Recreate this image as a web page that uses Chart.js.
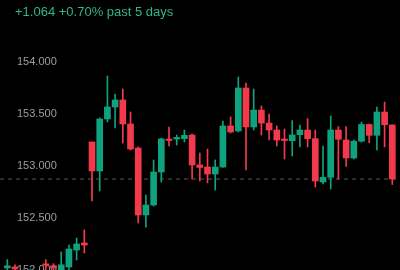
<!DOCTYPE html>
<html>
<head>
<meta charset="utf-8">
<script src="https://cdn.jsdelivr.net/npm/chart.js@4.4.1/dist/chart.umd.min.js"></script>
<style>
  html, body { margin: 0; padding: 0; background: #000; }
  #wrap { position: relative; width: 400px; height: 270px; overflow: hidden; background: #000; }
  #hdr { position: absolute; left: 15px; top: 4px; font: 13px "Liberation Sans", Arial, sans-serif; line-height: 16px; color: #35b28e; white-space: nowrap; z-index: 2; }
  canvas { position: absolute; left: 0; top: 0; }
</style>
</head>
<body>
<div id="wrap">
  <div id="hdr">+1.064 +0.70% past 5 days</div>
  <canvas id="c" width="400" height="270"></canvas>
</div>
<script>
// Candle index positions (bar slots)
const slots = [-12,-11,-10,-9,-8,-7,-6,-5,-4,-3,-2,-1,0,1,2,3,4,5,6,7,8,9,10,11,12,13,14,15,16,17,18,19,20,21,22,23,24,25,26,27,28,29,30,31,32,33,34,35,36,37,38,39];
const opens  = [151.98,152.02,152.03,151.98,151.96,151.97,152.055,152.04,151.98,152.029,152.192,152.260,
  153.231,152.952,153.452,153.567,153.635,153.404,153.173,152.529,152.625,152.942,153.255,153.260,153.263,153.298,
  153.010,152.990,152.923,152.990,153.385,153.337,153.750,153.375,153.538,153.413,153.346,153.255,153.243,153.301,
  153.346,153.263,152.846,152.891,153.346,153.250,153.077,153.238,153.399,153.295,153.519,153.394];
const closes = [151.95,152.04,152.01,151.95,151.99,151.94,152.045,152.02,152.05,152.202,152.250,152.240,
  152.952,153.452,153.567,153.635,153.404,153.163,152.529,152.625,152.942,153.260,153.245,153.274,153.295,153.010,
  152.986,152.923,152.990,153.385,153.327,153.750,153.375,153.538,153.413,153.346,153.250,153.245,153.298,153.346,
  153.263,152.856,152.891,153.346,153.257,153.077,153.238,153.399,153.295,153.519,153.397,152.875];
const highs  = [152.00,152.10,152.05,152.00,152.01,151.99,152.10,152.06,152.173,152.240,152.308,152.385,
  153.231,153.462,153.865,153.692,153.740,153.519,153.183,152.721,153.058,153.269,153.375,153.298,153.346,153.308,
  153.125,153.163,153.058,153.433,153.471,153.856,153.798,153.740,153.577,153.500,153.385,153.356,153.436,153.394,
  153.455,153.346,153.192,153.481,153.378,153.380,153.250,153.423,153.404,153.567,153.615,153.397];
const lows   = [151.90,151.98,151.97,151.90,151.92,151.90,151.98,151.97,151.95,151.97,152.096,152.163,
  152.663,152.760,153.423,153.365,153.221,153.154,152.452,152.413,152.615,152.846,153.192,153.202,153.231,152.875,
  152.856,152.837,152.769,152.986,153.317,153.327,152.962,153.346,153.298,153.250,153.192,153.067,153.096,153.183,
  153.183,152.798,152.827,152.779,152.875,152.995,153.067,153.231,153.224,153.154,153.183,152.822];
const prevClose = 152.875;
const yTickValues = [154.0, 153.5, 153.0, 152.5, 152.0];
const headerText = "+1.064 +0.70% past 5 days";

const UP = '#0fa27f', DOWN = '#f23a4c';
const X_MIN = -11.95, X_MAX = 40.0;
const Y_MIN = 152.0, Y_MAX = 154.596;

const bodies = slots.map((s, i) => ({ x: s, y: [opens[i], closes[i]] }));
const wicks  = slots.map((s, i) => ({ x: s, y: [lows[i], highs[i]] }));
const colorFor = ctx => {
  const i = ctx.dataIndex;
  return closes[i] >= opens[i] ? UP : DOWN;
};

const tickLabels = {
  id: 'tickLabels',
  beforeDatasetsDraw(chart) {
    const y = chart.scales.y;
    const c = chart.ctx;
    c.save();
    c.fillStyle = '#9d9d9d';
    c.font = '11px "Liberation Sans", Arial, sans-serif';
    c.textAlign = 'left';
    c.textBaseline = 'middle';
    yTickValues.forEach(v => c.fillText(v.toFixed(3), 17, y.getPixelForValue(v)));
    c.restore();
  }
};

new Chart(document.getElementById('c'), {
  type: 'bar',
  data: {
    datasets: [
      { type: 'line', data: [{ x: X_MIN, y: prevClose }, { x: X_MAX, y: prevClose }],
        borderColor: '#5a5a5a', borderWidth: 1, borderDash: [4, 4], pointRadius: 0, order: 3 },
      { data: wicks, backgroundColor: colorFor, borderWidth: 0, barThickness: 1, grouped: false, order: 2 },
      { data: bodies, backgroundColor: colorFor, borderWidth: 0, barThickness: 6, grouped: false, minBarLength: 1.5, order: 1 }
    ]
  },
  options: {
    responsive: false,
    animation: false,
    layout: { padding: 0 },
    plugins: { legend: { display: false }, tooltip: { enabled: false }, title: { display: false } },
    scales: {
      x: { type: 'linear', min: X_MIN, max: X_MAX, display: false, offset: false },
      y: { type: 'linear', min: Y_MIN, max: Y_MAX, display: false }
    }
  },
  plugins: [tickLabels]
});
</script>
</body>
</html>
